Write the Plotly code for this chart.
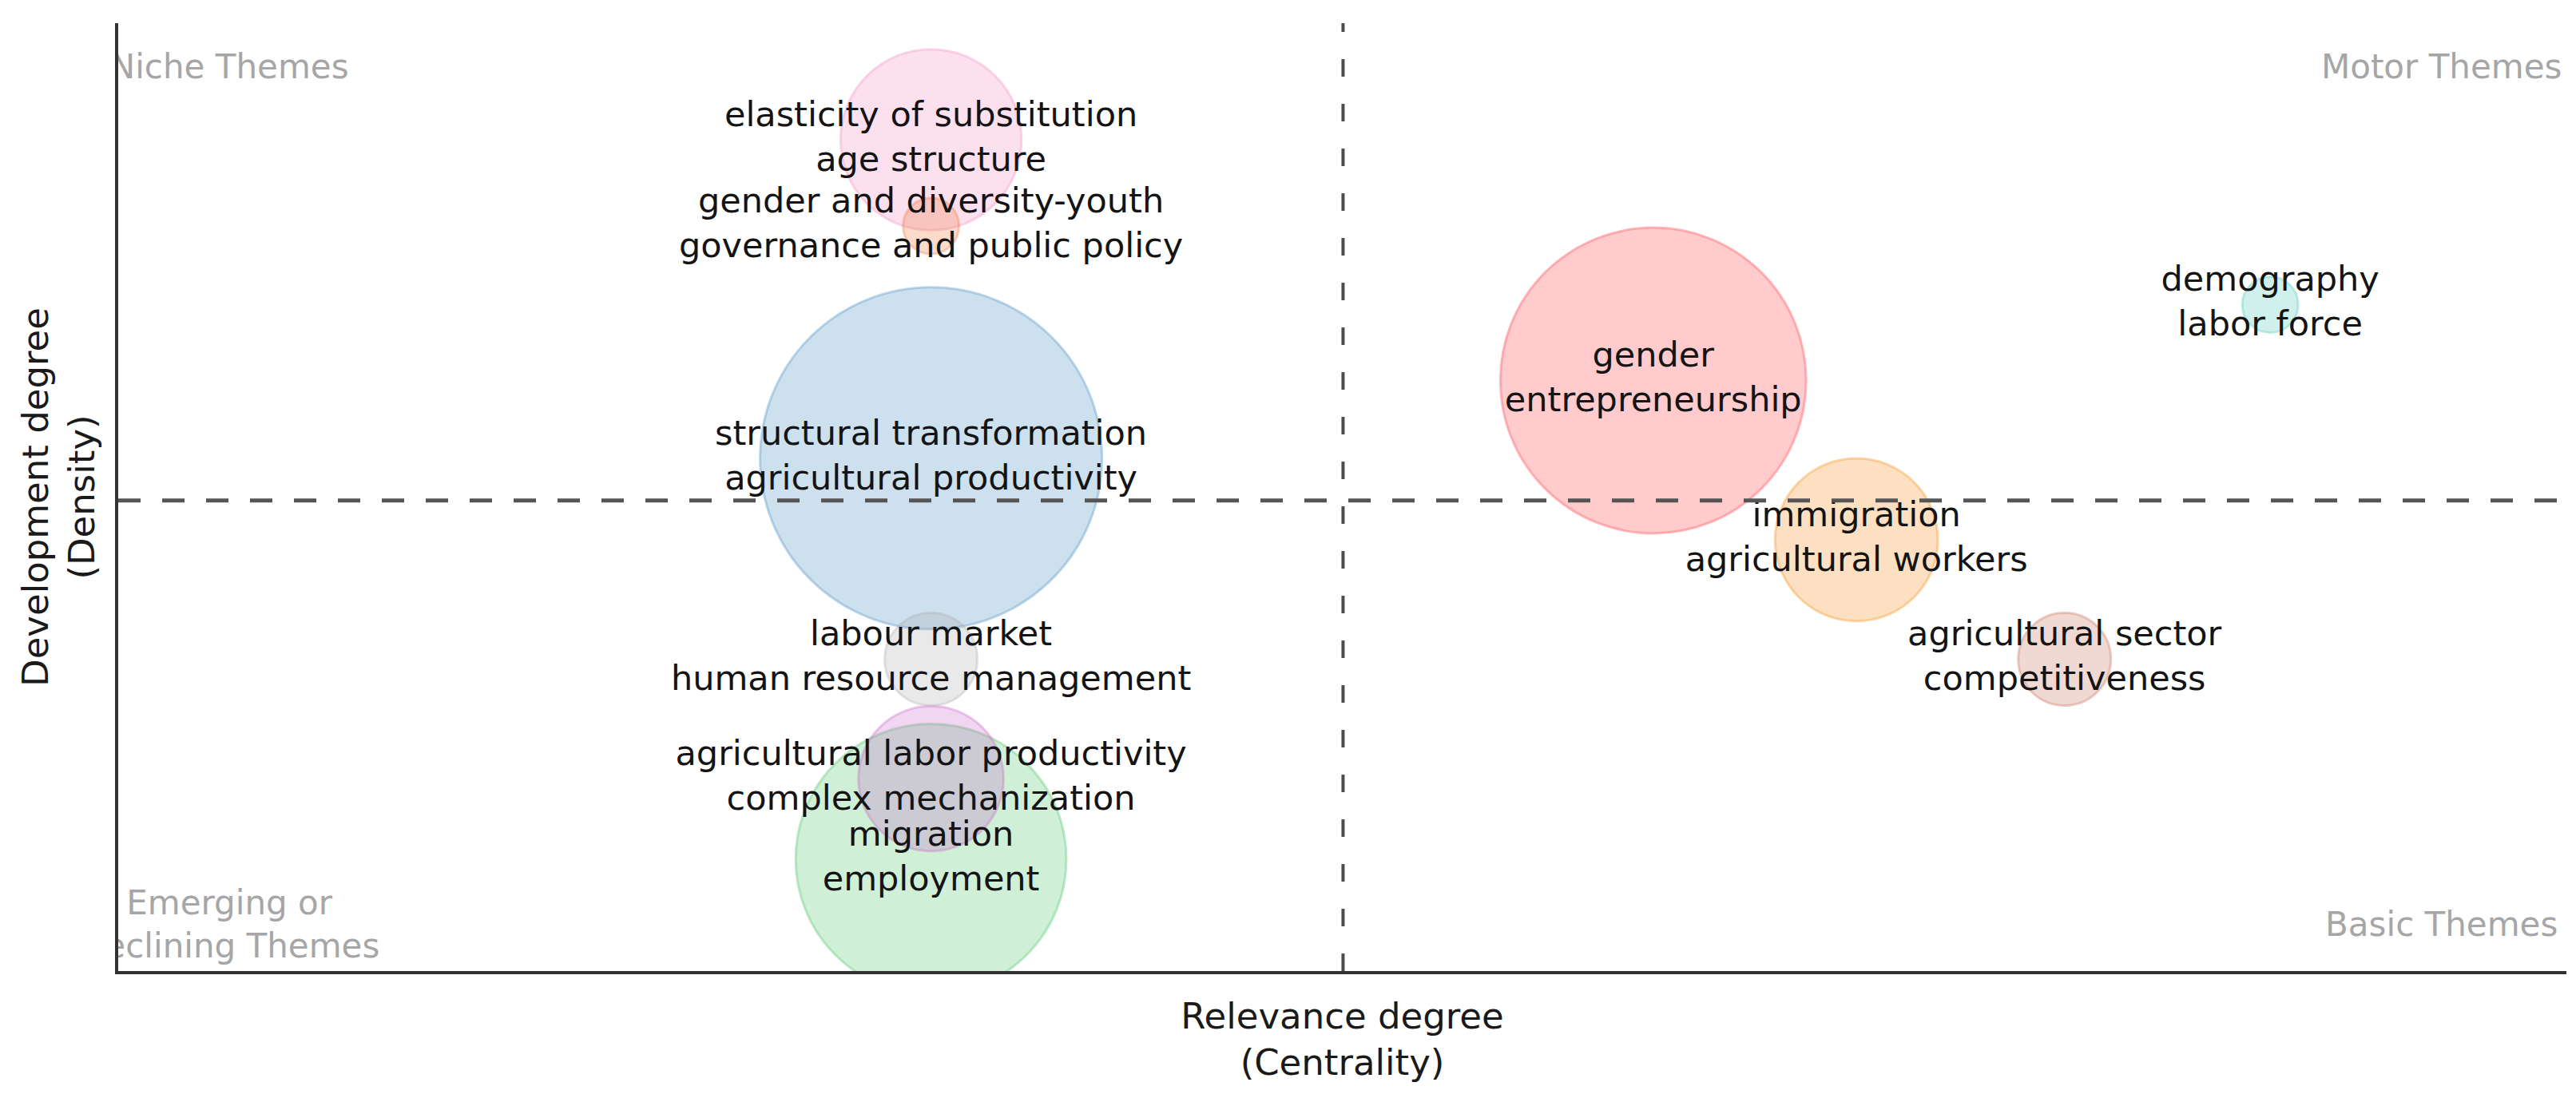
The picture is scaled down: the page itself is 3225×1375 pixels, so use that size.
import plotly.graph_objects as go
import numpy as np

cluster_labels = [
    "elasticity of substitution<br>age structure",
    "gender and diversity-youth<br>governance and public policy",
    "structural transformation<br>agricultural productivity",
    "labour market<br>human resource management",
    "agricultural labor productivity<br>complex mechanization",
    "migration<br>employment",
    "gender<br>entrepreneurship",
    "immigration<br>agricultural workers",
    "agricultural sector<br>competitiveness",
    "demography<br>labor force",
]
centrality = [0.332, 0.332, 0.332, 0.332, 0.332, 0.332, 0.627, 0.710, 0.795, 0.879]
density = [0.877, 0.786, 0.541, 0.329, 0.203, 0.118, 0.623, 0.455, 0.329, 0.703]
frequency = [21, 2, 75, 5.5, 13.5, 47, 60, 17, 5.5, 2]
cluster_rgb = [
    (245, 138, 192),  # pink
    (245, 118, 58),   # salmon
    (65, 138, 192),   # blue
    (172, 172, 172),  # grey
    (202, 98, 202),   # purple
    (72, 195, 98),    # green
    (255, 58, 65),    # red
    (248, 138, 15),   # orange
    (198, 108, 82),   # brown
    (75, 202, 178),   # teal
]
quadrant_names = ["Niche Themes", "Motor Themes", "Emerging or<br>Declining Themes", "Basic Themes"]

x_range = [0.0, 1.0]
y_range = [0.0, 1.0]

# ---- figure ----
order = np.argsort(-np.array(frequency), kind="stable")
xs = [centrality[i] for i in order]
ys = [density[i] for i in order]
fs = [frequency[i] for i in order]
fill = [f"rgba({cluster_rgb[i][0]},{cluster_rgb[i][1]},{cluster_rgb[i][2]},0.37)" for i in order]
edge = [f"rgba({cluster_rgb[i][0]},{cluster_rgb[i][1]},{cluster_rgb[i][2]},0.5)" for i in order]

fig = go.Figure()
fig.add_trace(go.Scatter(
    x=xs, y=ys, mode="markers",
    marker=dict(size=fs, sizemode="area", sizeref=2 * max(frequency) / 428 ** 2,
                color=fill, line=dict(color=edge, width=3)),
    hoverinfo="skip", showlegend=False, cliponaxis=True,
))
fig.add_trace(go.Scatter(
    x=centrality, y=density, mode="text", text=cluster_labels,
    textposition="middle center",
    textfont=dict(family="DejaVu Sans", size=43, color="#141414"),
    hoverinfo="skip", showlegend=False,
))

dx = x_range[1] - x_range[0]
dy = y_range[1] - y_range[0]
qx = [x_range[0] + 0.0454 * dx, x_range[0] + 0.949 * dx, x_range[0] + 0.0454 * dx, x_range[0] + 0.949 * dx]
qy = [y_range[0] + 0.951 * dy, y_range[0] + 0.951 * dy, y_range[0] + 0.046 * dy, y_range[0] + 0.046 * dy]
fig.add_trace(go.Scatter(
    x=qx, y=qy, mode="text", text=quadrant_names, textposition="middle center",
    textfont=dict(family="DejaVu Sans", size=42, color="#a6a6a6"),
    hoverinfo="skip", showlegend=False, cliponaxis=True,
))

x_mean = float(np.mean(centrality))
y_mean = float(np.mean(density))
fig.add_shape(type="line", xref="x", yref="y domain", x0=x_mean, x1=x_mean, y0=0, y1=1,
              line=dict(color="#4d4d4d", width=4, dash="22px,34px"))
fig.add_shape(type="line", xref="x domain", yref="y", x0=0, x1=1, y0=y_mean, y1=y_mean,
              line=dict(color="#555555", width=5, dash="28px,27px"))

axis_common = dict(showline=True, linecolor="#333333", linewidth=4, showticklabels=False,
                   ticks="", showgrid=False, zeroline=False, fixedrange=True)
fig.update_xaxes(range=x_range, **axis_common,
                 title=dict(text="Relevance degree<br>(Centrality)",
                            font=dict(family="DejaVu Sans", size=45, color="#1a1a1a"),
                            standoff=38))
fig.update_yaxes(range=y_range, **axis_common,
                 title=dict(text="Development degree<br>(Density)",
                            font=dict(family="DejaVu Sans", size=45, color="#1a1a1a"),
                            standoff=12))

fig.update_layout(
    width=3225, height=1375,
    margin=dict(l=140, r=20, t=21, b=167),
    paper_bgcolor="white", plot_bgcolor="white",
    showlegend=False,
)

fig.write_html("out.html")
